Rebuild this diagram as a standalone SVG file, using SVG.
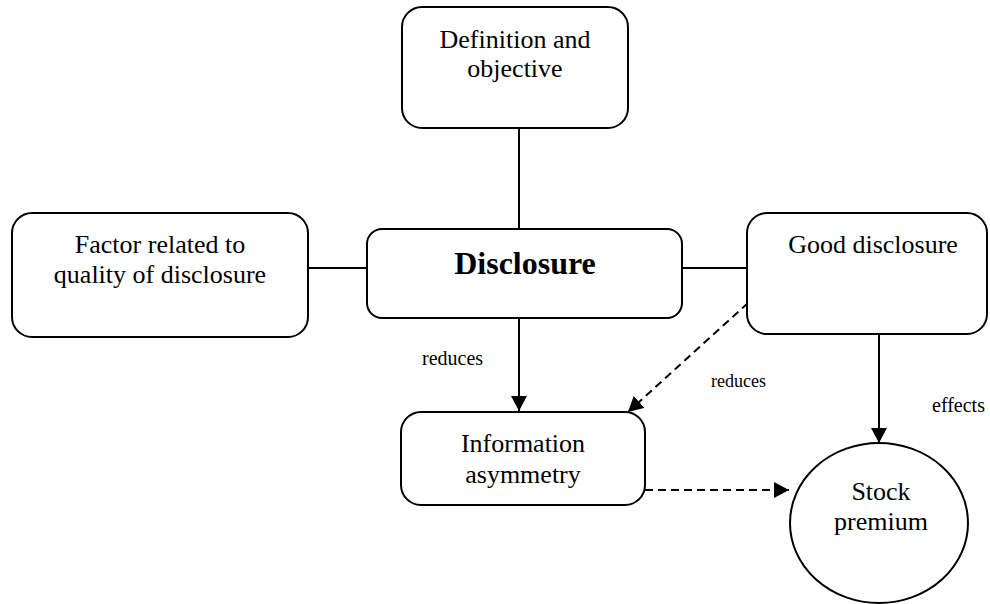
<svg xmlns="http://www.w3.org/2000/svg" width="990" height="604" viewBox="0 0 990 604">
<style>
.box{fill:#fff;stroke:#000;stroke-width:2}
text{font-family:'Liberation Serif','Times New Roman','DejaVu Serif',serif;fill:#000}
.t{font-size:26px;text-anchor:middle}
.b{font-size:32px;font-weight:bold;text-anchor:middle}
.s{font-size:20px}
.ln{stroke:#000;stroke-width:2;fill:none}
.d{stroke-dasharray:8 5}
</style>
<defs>
<marker id="ah" markerWidth="16" markerHeight="16" viewBox="0 0 16 16" refX="15" refY="8" orient="auto" markerUnits="userSpaceOnUse">
<path d="M0,0 L15,8 L0,16 Z" fill="#000"/>
</marker>
</defs>
<g id="connectors">
<line class="ln" x1="519" y1="128" x2="519" y2="229"/>
<line class="ln" x1="308" y1="268" x2="367" y2="268"/>
<line class="ln" x1="682" y1="268" x2="747" y2="268"/>
<line class="ln" x1="519" y1="318" x2="519" y2="411" marker-end="url(#ah)"/>
<line class="ln" x1="879" y1="334" x2="879" y2="443" marker-end="url(#ah)"/>
<line class="ln d" x1="748" y1="303" x2="628" y2="412" marker-end="url(#ah)"/>
<line class="ln d" x1="645" y1="490" x2="789" y2="490" marker-end="url(#ah)"/>
<text class="s" x="422" y="365">reduces</text>
<text class="s" x="711" y="387" style="font-size:18px">reduces</text>
<text class="s" x="932" y="412">effects</text>
</g>
<g id="definition">
<rect class="box" x="402" y="7" width="226" height="121" rx="20"/>
<text class="t" x="515" y="48">Definition and</text>
<text class="t" x="515" y="77">objective</text>
</g>
<g id="factor">
<rect class="box" x="12" y="213" width="296" height="124" rx="20"/>
<text class="t" x="160" y="253">Factor related to</text>
<text class="t" x="160" y="283">quality of disclosure</text>
</g>
<g id="disclosure">
<rect class="box" x="367" y="229" width="315" height="89" rx="15"/>
<text class="b" x="525" y="274">Disclosure</text>
</g>
<g id="good">
<rect class="box" x="747" y="213" width="240" height="121" rx="20"/>
<text class="t" x="873" y="253">Good disclosure</text>
</g>
<g id="info">
<rect class="box" x="401" y="412" width="244" height="93" rx="20"/>
<text class="t" x="523" y="452">Information</text>
<text class="t" x="523" y="483">asymmetry</text>
</g>
<g id="stock">
<ellipse class="box" cx="879" cy="523" rx="89" ry="80"/>
<text class="t" x="881" y="500">Stock</text>
<text class="t" x="881" y="530">premium</text>
</g>
</svg>
